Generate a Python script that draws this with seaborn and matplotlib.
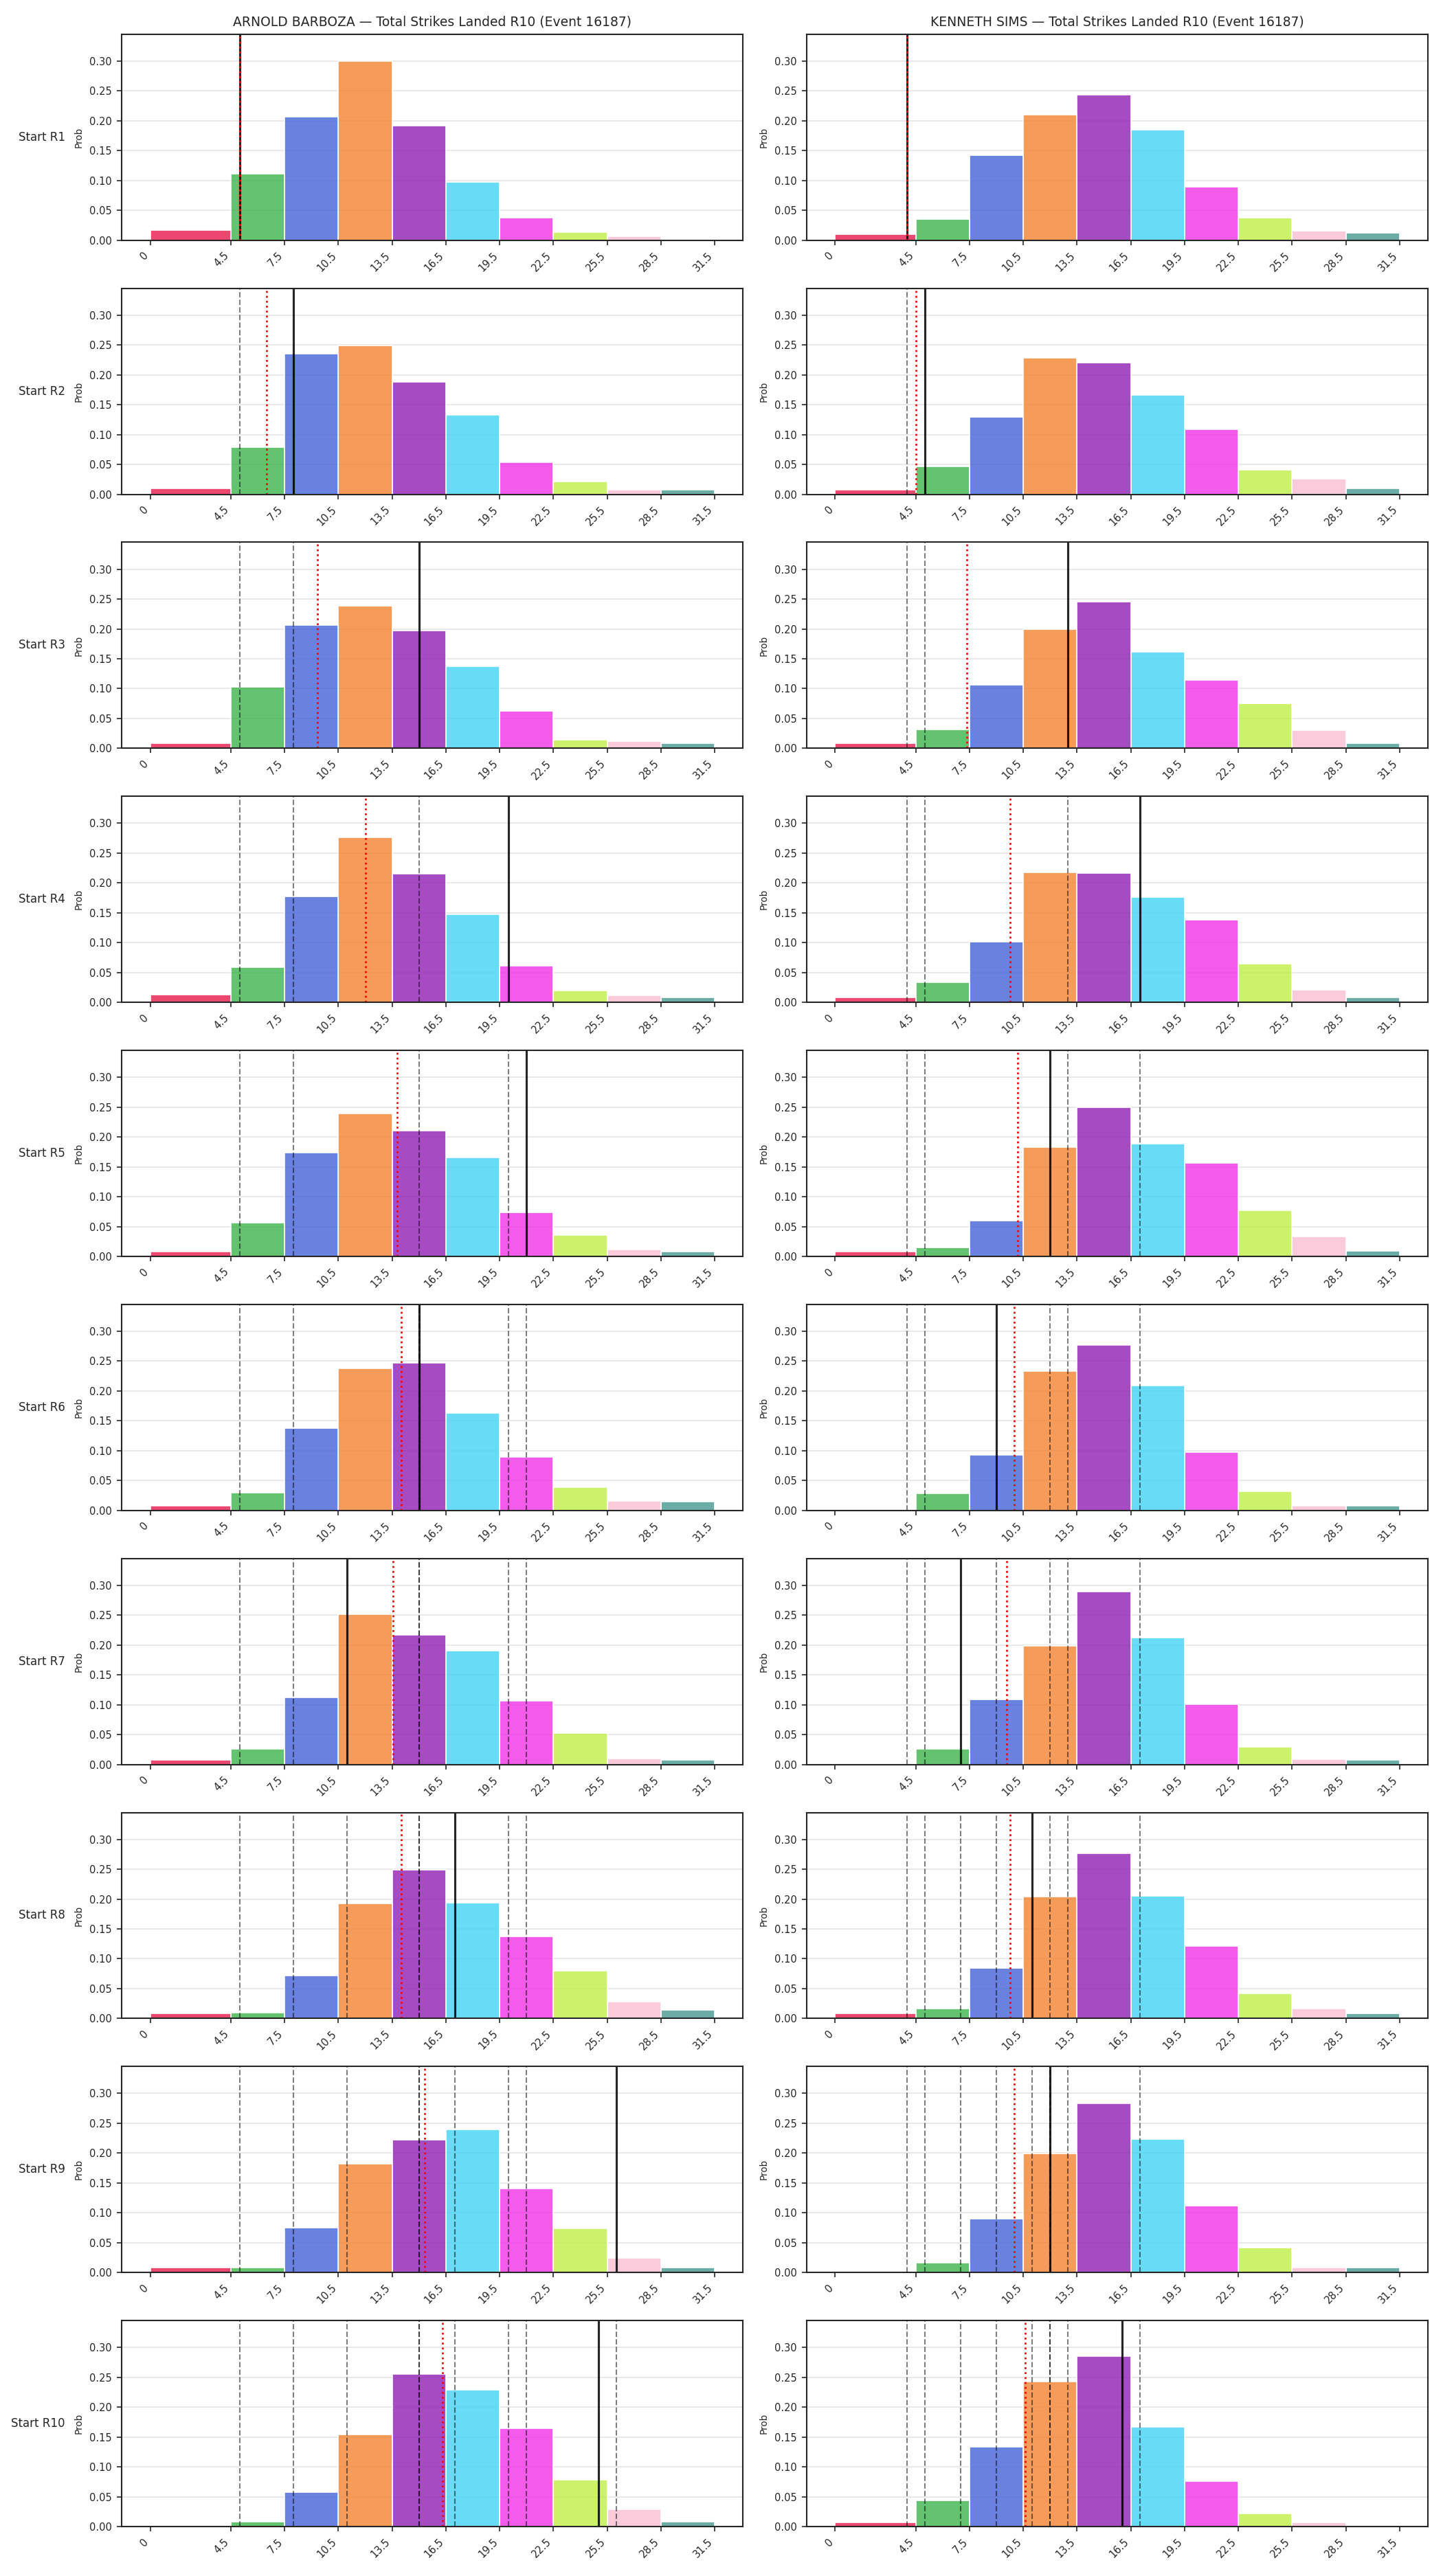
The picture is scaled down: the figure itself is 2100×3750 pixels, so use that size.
import numpy as np
import pandas as pd
import matplotlib
matplotlib.use("Agg")
import matplotlib.pyplot as plt
import seaborn as sns

# ===== 数据 =====
bin_edges = [0, 4.5, 7.5, 10.5, 13.5, 16.5, 19.5, 22.5, 25.5, 28.5, 31.5]
bin_colors = ["#e6194b", "#3cb44b", "#4363d8", "#f58231", "#911eb4",
              "#42d4f4", "#f032e6", "#bfef45", "#fabed4", "#469990"]
round_names = ["R1", "R2", "R3", "R4", "R5", "R6", "R7", "R8", "R9", "R10"]

# 每回合开始时的分布概率 (按分箱)
barboza_probs = [
    [0.017, 0.111, 0.207, 0.300, 0.192, 0.097, 0.038, 0.014, 0.007, 0.000],
    [0.010, 0.079, 0.235, 0.249, 0.188, 0.133, 0.053, 0.021, 0.008, 0.008],
    [0.008, 0.103, 0.206, 0.238, 0.197, 0.137, 0.062, 0.014, 0.012, 0.008],
    [0.013, 0.059, 0.177, 0.276, 0.215, 0.148, 0.061, 0.020, 0.012, 0.008],
    [0.008, 0.056, 0.174, 0.239, 0.210, 0.166, 0.074, 0.036, 0.012, 0.008],
    [0.008, 0.030, 0.138, 0.238, 0.247, 0.163, 0.090, 0.039, 0.016, 0.015],
    [0.008, 0.026, 0.112, 0.251, 0.217, 0.191, 0.106, 0.052, 0.010, 0.008],
    [0.008, 0.010, 0.072, 0.193, 0.249, 0.194, 0.137, 0.080, 0.028, 0.014],
    [0.008, 0.008, 0.075, 0.182, 0.222, 0.239, 0.141, 0.074, 0.024, 0.008],
    [0.000, 0.008, 0.058, 0.154, 0.255, 0.229, 0.164, 0.078, 0.029, 0.008],
]
barboza_landed = [5, 8, 15, 20, 21, 15, 11, 17, 26, 25]

sims_probs = [
    [0.010, 0.035, 0.142, 0.210, 0.244, 0.185, 0.090, 0.038, 0.016, 0.012],
    [0.008, 0.047, 0.130, 0.228, 0.220, 0.166, 0.109, 0.041, 0.026, 0.010],
    [0.008, 0.032, 0.106, 0.200, 0.246, 0.161, 0.114, 0.075, 0.030, 0.008],
    [0.008, 0.033, 0.101, 0.218, 0.217, 0.176, 0.138, 0.065, 0.021, 0.008],
    [0.008, 0.015, 0.060, 0.183, 0.250, 0.189, 0.157, 0.077, 0.033, 0.009],
    [0.000, 0.029, 0.093, 0.233, 0.277, 0.209, 0.097, 0.032, 0.008, 0.008],
    [0.000, 0.026, 0.109, 0.199, 0.290, 0.212, 0.101, 0.030, 0.009, 0.008],
    [0.008, 0.016, 0.085, 0.204, 0.277, 0.205, 0.121, 0.042, 0.016, 0.008],
    [0.000, 0.016, 0.090, 0.199, 0.283, 0.224, 0.112, 0.042, 0.008, 0.008],
    [0.007, 0.044, 0.133, 0.243, 0.285, 0.167, 0.076, 0.022, 0.007, 0.000],
]
sims_landed = [4, 5, 13, 17, 12, 9, 7, 11, 12, 16]

fighters = [
    ("ARNOLD BARBOZA", barboza_probs, barboza_landed),
    ("KENNETH SIMS", sims_probs, sims_landed),
]
event_title = "Total Strikes Landed R10 (Event 16187)"

# ===== 绘图 =====
sns.set_style("ticks")
plt.rcParams["font.family"] = ["DejaVu Sans"]

edges = np.array(bin_edges)
mids = (edges[:-1] + edges[1:]) / 2
bin_labels = [f"b{i}" for i in range(len(mids))]
palette = dict(zip(bin_labels, bin_colors))
y_top = max(max(max(p) for p in f[1]) for f in fighters) * 1.15

fig, axes = plt.subplots(len(round_names), 2, figsize=(14, 25), dpi=150)
fig.subplots_adjust(left=0.0845, right=0.9895, top=0.9867, bottom=0.0192,
                    hspace=0.2333, wspace=0.103)

for col, (name, probs, landed) in enumerate(fighters):
    running_mean = pd.Series(landed, dtype=float).expanding().mean().tolist()
    for r, rnd in enumerate(round_names):
        ax = axes[r, col]
        df = pd.DataFrame({"mid": mids, "p": probs[r], "bin": bin_labels})
        sns.histplot(data=df, x="mid", weights="p", bins=bin_edges, hue="bin",
                     hue_order=bin_labels, palette=palette, multiple="layer",
                     alpha=0.8, edgecolor="white", linewidth=0.8,
                     legend=False, ax=ax)

        # 之前回合的实际值
        for prev in landed[:r]:
            ax.axvline(prev, color="k", linestyle="--", linewidth=1.0, alpha=0.5)
        ax.axvline(landed[r], color="k", linewidth=1.5, alpha=0.85)
        ax.axvline(running_mean[r], color="red", linestyle=":", linewidth=1.3)

        ax.set_ylim(0, y_top)
        ax.set_xticks(bin_edges)
        ax.set_xticklabels([f"{e:g}" for e in bin_edges])
        plt.setp(ax.get_xticklabels(), rotation=45, ha="right")
        ax.tick_params(labelsize=7, length=3.5, width=0.8)
        ax.grid(axis="y", color="#e5e5e5", linewidth=0.8)
        ax.set_xlabel("")
        ax.set_ylabel("Prob", fontsize=6.5)
        for s in ax.spines.values():
            s.set_visible(True)
            s.set_linewidth(1.0)
            s.set_color("#262626")

        if r == 0:
            ax.set_title(f"{name} \u2014 {event_title}", fontsize=9)
        if col == 0:
            ax.text(-0.0914, 0.5, f"Start {rnd}", transform=ax.transAxes,
                    ha="right", va="center", fontsize=8)

fig.savefig("out.png", dpi=150)
